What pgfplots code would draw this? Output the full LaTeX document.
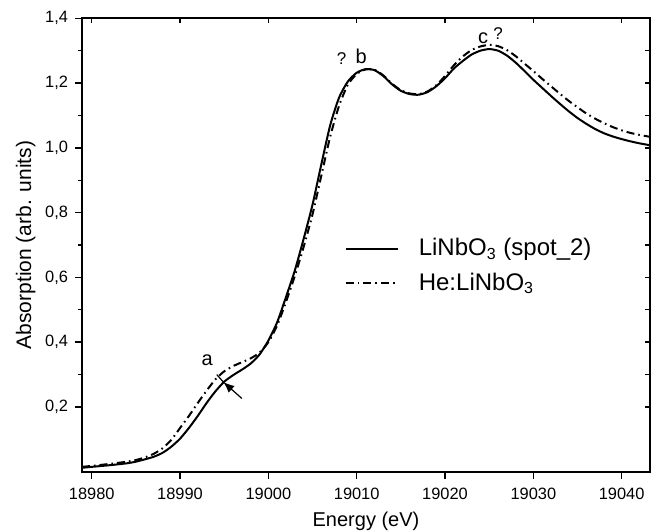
\documentclass[border=0pt]{standalone}
\usepackage{fontspec}
\setmainfont{Liberation Sans}
\usepackage{pgfplots}
\pgfplotsset{compat=1.18}
\usepackage{pgfplotstable}
\usetikzlibrary{arrows.meta}

\pgfplotstableread{
E y
18978.9 0.012
18980 0.015
18982 0.020
18984 0.026
18985 0.031
18986 0.038
18987 0.046
18988 0.058
18989 0.077
18990 0.102
18991 0.135
18992 0.172
18993 0.212
18994 0.248
18995 0.278
18996 0.298
18997 0.315
18998 0.334
18999 0.362
19000 0.405
19001 0.462
19002 0.540
19003 0.622
19004 0.720
19005 0.825
19006 0.950
19007 1.070
19008 1.155
19009 1.205
19010 1.232
19011 1.243
19012 1.240
19013 1.222
19014 1.196
19015 1.176
19016 1.166
19017 1.164
19018 1.172
19019 1.190
19020 1.215
19021 1.245
19022 1.268
19023 1.288
19024 1.300
19025 1.305
19026 1.300
19027 1.285
19028 1.263
19029 1.237
19030 1.210
19031 1.185
19032 1.160
19033 1.136
19034 1.113
19035 1.092
19036 1.074
19037 1.058
19038 1.045
19039 1.035
19040 1.027
19041 1.020
19042 1.014
19043.2 1.008
}\solid

\pgfplotstableread{
E y
18978.9 0.015
18980 0.018
18982 0.024
18984 0.031
18985 0.036
18986 0.044
18987 0.055
18988 0.072
18989 0.098
18990 0.135
18991 0.172
18992 0.212
18993 0.250
18994 0.285
18995 0.310
18996 0.326
18997 0.338
18998 0.350
18999 0.368
19000 0.400
19001 0.452
19002 0.525
19003 0.605
19004 0.695
19005 0.795
19006 0.915
19007 1.035
19008 1.130
19009 1.195
19010 1.228
19011 1.242
19012 1.241
19013 1.224
19014 1.198
19015 1.178
19016 1.168
19017 1.166
19018 1.174
19019 1.193
19020 1.222
19021 1.255
19022 1.282
19023 1.302
19024 1.313
19025 1.318
19026 1.314
19027 1.302
19028 1.283
19029 1.260
19030 1.237
19031 1.213
19032 1.190
19033 1.167
19034 1.145
19035 1.125
19036 1.106
19037 1.090
19038 1.076
19039 1.064
19040 1.054
19041 1.046
19042 1.040
19043.2 1.034
}\dashed

\begin{document}
\begin{tikzpicture}
\path[use as bounding box] (-41pt,-29.65pt) rectangle (288pt,235.85pt);
\pgfplotsset{
  common/.style={
    scale only axis,
    width=284pt, height=226.7pt,
    xmin=18978.9, xmax=19043.2,
    ymin=0, ymax=1.4,
    xtick={18980,18990,...,19040},
    ytick={0.2,0.4,...,1.4},
    minor x tick num=1,
    minor y tick num=1,
    scaled x ticks=false,
    scaled y ticks=false,
    axis line style={line width=0.9pt},
    every tick/.style={black, line width=0.7pt},
  }
}
\begin{axis}[common,
    tick align=outside,
    xtick pos=left, ytick pos=left,
    major tick length=3.5pt, minor tick length=2pt,
    /pgf/number format/assume math mode=true,
    x tick label style={/pgf/number format/.cd, fixed, precision=0, 1000 sep={}, /tikz/.cd, font=\fontsize{8.2}{9.8}\selectfont, yshift=-1.2pt},
    y tick label style={/pgf/number format/.cd, use comma, fixed, fixed zerofill, precision=1, /tikz/.cd, font=\fontsize{8.2}{9.8}\selectfont},
    xlabel={Energy (eV)},
    ylabel={Absorption (arb. units)},
    xlabel style={font=\fontsize{10}{12}\selectfont, yshift=1pt},
    ylabel style={font=\fontsize{10.5}{12.6}\selectfont, yshift=-2pt},
    legend style={draw=none, fill=none, at={(rel axis cs:0.462,0.4537)}, anchor=west,
      font=\fontsize{12}{14.4}\selectfont, row sep=5pt, inner sep=0pt,
      /tikz/every even column/.style={column sep=0pt},
      nodes={inner sep=1pt}},
    legend cell align=left,
    legend image code/.code={\draw[#1] (0cm,0cm) -- (26pt,0cm);},
    /tikz/every odd column/.append style={column sep=9pt},
]
\addplot[black, line width=1pt, smooth, tension=0.4] table[x=E, y=y] {\solid};
\addlegendentry{LiNbO\textsubscript{3} (spot\_2)}
\addplot[black, line width=1pt, smooth, tension=0.4, dash pattern=on 4pt off 2pt on 0.8pt off 2pt] table[x=E, y=y] {\dashed};
\addlegendentry{He:LiNbO\textsubscript{3}}

\draw[line width=0.6pt, -{Latex[length=5.5pt,width=4.5pt]}] (axis cs:18997.0,0.226) -- (axis cs:18994.9,0.277);
\draw[line width=0.6pt] (axis cs:18994.15,0.30) -- (axis cs:18994.9,0.277);
\node[font=\fontsize{10}{12}\selectfont] at (axis cs:18993.06,0.344) {a};
\node[font=\fontsize{8.5}{10}\selectfont] at (axis cs:19008.3,1.275) {?};
\node[font=\fontsize{10}{12}\selectfont] at (axis cs:19010.5,1.282) {b};
\node[font=\fontsize{10}{12}\selectfont] at (axis cs:19024.32,1.34) {c};
\node[font=\fontsize{8.5}{10}\selectfont] at (axis cs:19026.0,1.353) {?};
\end{axis}
\begin{axis}[common,
    tick align=inside,
    xtick pos=right, ytick pos=right,
    major tick length=2.5pt, minor tick length=2.5pt,
    xticklabels={}, yticklabels={},
]
\end{axis}
\end{tikzpicture}
\end{document}
